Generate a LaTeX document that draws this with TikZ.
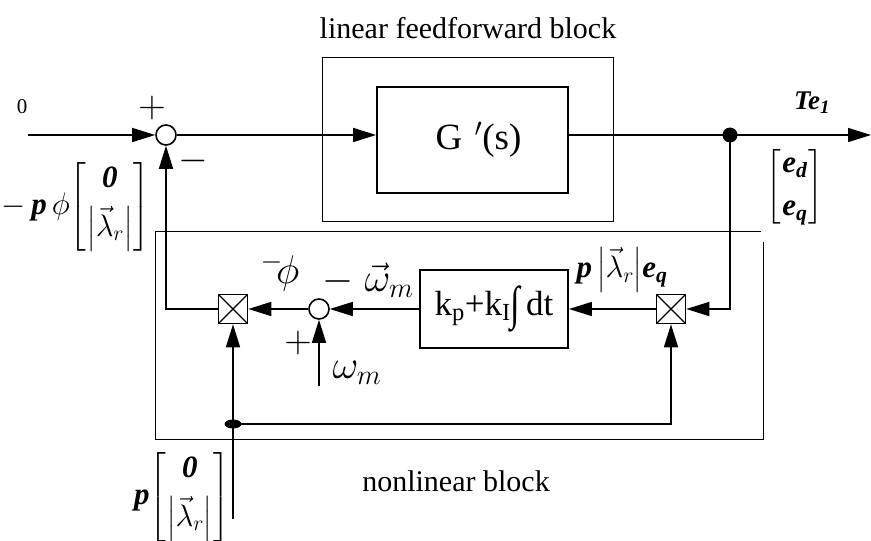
\RequirePackage{fix-cm}
\documentclass[tikz,border=0pt]{standalone}
\usepackage{amsmath}
\usepackage{fontspec}
\setmainfont{Liberation Serif}
\usetikzlibrary{arrows.meta,shapes.geometric}
\newcommand{\bi}[1]{\textbf{\textit{#1}}}
\newcommand{\lmr}{\vec{\lambda}_{r}}
\setlength{\arraycolsep}{1pt}
\begin{document}
\begin{tikzpicture}[x=1pt,y=-1pt,
  conn/.style={line width=1.6pt},
  arr/.style={conn,-{Triangle[length=23pt,width=14pt]}},
  frame/.style={line width=0.9pt},
  blk/.style={draw,line width=1.8pt,inner sep=0pt},
  sumc/.style={circle,draw,line width=1.6pt,minimum size=20pt,inner sep=0pt},
  mult/.style={draw,line width=1.6pt,minimum size=29pt,inner sep=0pt,
     path picture={\draw[line width=1.2pt] (path picture bounding box.south west)--(path picture bounding box.north east) (path picture bounding box.north west)--(path picture bounding box.south east);}},
  txt/.style={inner sep=0pt,font=\fontsize{30}{34}\selectfont},
  vec/.style={inner sep=0pt,font=\fontsize{31}{35}\selectfont},
  sgn/.style={inner sep=0pt,font=\fontsize{38}{42}\selectfont},
  grk/.style={inner sep=0pt,font=\fontsize{40}{44}\selectfont}
]
\useasboundingbox (0,0) rectangle (871,541);

% frames
\draw[frame] (322,57) rectangle (613,221);
\draw[frame] (155,231) -- (761,231);
\draw[frame] (763,242) -- (763,439) -- (155,439) -- (155,231);

% blocks
\node[sumc] (s1) at (166,135) {};
\node[blk,minimum width=191pt,minimum height=106pt] (G) at (472.5,140) {\fontsize{37}{41}\selectfont\hspace*{12pt}G\,\,$'$(s)};
\node[blk,minimum width=148pt,minimum height=78pt] (K) at (494,309) {\fontsize{35}{40}\selectfont k\textsubscript{p}+k\textsubscript{I}\raisebox{-0.12em}{\scalebox{1}[1.35]{∫}}\,dt};
\node[mult] (m1) at (233,309) {};
\node[mult] (m2) at (671,309) {};
\node[sumc] (s2) at (319,309) {};
\node[circle,fill,inner sep=0pt,minimum size=15pt] (d1) at (730,135) {};
\node[ellipse,fill,inner sep=0pt,minimum width=17pt,minimum height=9pt] (d2) at (233,424) {};

\coordinate (in) at (28,135);
\coordinate (out) at (871,135);
\coordinate (wm) at (319,386);
\coordinate (b0) at (233,519);

% connectors
\draw[arr] (in) -- (s1.west);
\draw[arr] (s1.east) -- (G.west |- s1);
\draw[arr] (G.east |- s1) -- (out);
\draw[arr] (d1.center) -- (d1 |- m2) -- (m2.east);
\draw[arr] (m2.west) -- (K.east);
\draw[arr] (K.west) -- (s2.east);
\draw[arr] (s2.west) -- (m1.east);
\draw[arr] (m1.west) -- (s1 |- m1) -- (s1.south);
\draw[arr] (wm) -- (s2.south);
\draw[arr] (b0) -- (m1.south);
\draw[arr] (d2.center) -- (d2 -| m2) -- (m2.south);

% labels
\node[txt] (tlin) at (468,28) {linear feedforward block};
\node[txt] (tnon) at (456,481) {nonlinear block};
\node[inner sep=0pt,font=\fontsize{21}{24}\selectfont] (t0) at (22,107) {0};
\node[inner sep=0pt,font=\fontsize{27}{30}\selectfont] (tTe) at (812,103) {\bi{Te}\textsubscript{\bi{1}}};
\node[sgn] (sp1) at (152,108) {$+$};
\node[sgn] (sm1) at (193,161) {$-$};
\node[sgn] (sp2) at (298,343) {$+$};
\node[grk] (lphi) at (280,272) {$^{-}\!\phi$};
\node[grk] (lwb) at (368,280) {$-\;\vec{\omega}_{m}$};
\node[grk] (lwm) at (357,373) {$\omega_{m}$};
\node[vec] (lpe) at (622,270) {$\bi{p}\,\bigl|\lmr\bigr|\bi{e}_{\bi{q}}$};
\node[vec] (lv1) at (76,207) {$-\,\bi{p}\,\phi\!\left[\begin{array}{c}\bi{0}\\[8pt]\left|\lmr\right|\end{array}\right]$};
\node[vec] (lv2) at (182,497) {$\bi{p}\!\left[\begin{array}{c}\bi{0}\\[8pt]\left|\lmr\right|\end{array}\right]$};
\node[vec] (lv3) at (795,187) {$\left[\begin{array}{c}\bi{e}_{\bi{d}}\\[8pt]\bi{e}_{\bi{q}}\end{array}\right]$};
\end{tikzpicture}
\end{document}
